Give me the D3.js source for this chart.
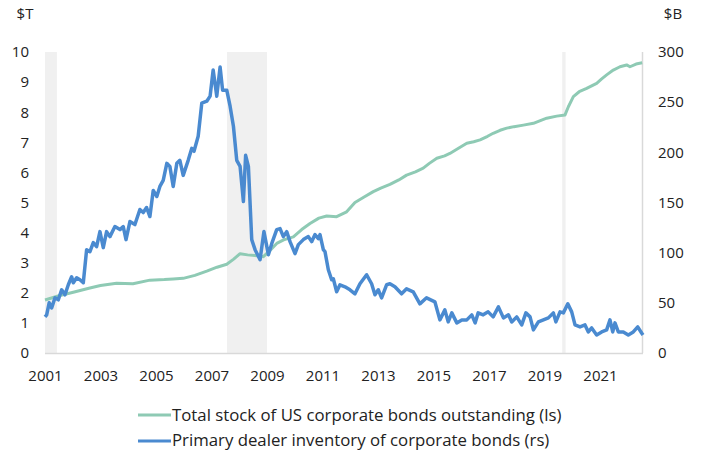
<!DOCTYPE html>
<html>
<head>
<meta charset="utf-8">
<script src="https://cdn.jsdelivr.net/npm/d3@7"></script>
<style>
  html, body { margin: 0; padding: 0; background: #fff; }
  svg text { font-family: "Open Sans", sans-serif; fill: #222; }
</style>
</head>
<body>
<svg id="chart" width="702" height="459"></svg>
<script>
// Time axis is in fractional years; ticks every two years.
const yearTicks = [2001, 2003, 2005, 2007, 2009, 2011, 2013, 2015, 2017, 2019, 2021];
const leftTicks = [0, 1, 2, 3, 4, 5, 6, 7, 8, 9, 10];
const rightTicks = [0, 50, 100, 150, 200, 250, 300];

// Recession periods (shaded bands), as [start, end]
const recessions = [[2001.0, 2001.43], [2007.56, 2009.0], [2019.64, 2019.76]];

// Total stock of US corporate bonds outstanding, $T (left scale)
const stockYears = [
  2001.00, 2001.50, 2002.02, 2002.58, 2003.00, 2003.58, 2004.17, 2004.78, 2005.30, 2005.62,
  2005.98, 2006.40, 2006.83, 2007.20, 2007.55, 2007.80, 2008.03, 2008.30, 2008.57, 2008.87,
  2009.10, 2009.35, 2009.60, 2009.95, 2010.25, 2010.55, 2010.87, 2011.15, 2011.51, 2011.87,
  2012.17, 2012.50, 2012.83, 2013.10, 2013.43, 2013.75, 2014.03, 2014.35, 2014.63, 2014.85,
  2015.12, 2015.40, 2015.59, 2015.90, 2016.20, 2016.45, 2016.68, 2016.95, 2017.15, 2017.40,
  2017.64, 2017.90, 2018.24, 2018.60, 2018.85, 2019.08, 2019.44, 2019.74, 2019.86, 2020.04,
  2020.25, 2020.52, 2020.88, 2021.05, 2021.24, 2021.48, 2021.72, 2021.96, 2022.08, 2022.30,
  2022.52];
const stockValues = [
  1.76, 1.90, 2.02, 2.15, 2.24, 2.32, 2.30, 2.42, 2.44, 2.46,
  2.48, 2.58, 2.72, 2.85, 2.95, 3.12, 3.30, 3.26, 3.24, 3.20,
  3.40, 3.64, 3.76, 3.86, 4.10, 4.30, 4.48, 4.55, 4.53, 4.69,
  5.00, 5.18, 5.36, 5.48, 5.60, 5.75, 5.91, 6.02, 6.14, 6.30,
  6.47, 6.55, 6.63, 6.80, 6.97, 7.02, 7.08, 7.20, 7.30, 7.40,
  7.47, 7.52, 7.57, 7.63, 7.72, 7.80, 7.87, 7.91, 8.18, 8.52,
  8.68, 8.79, 8.96, 9.10, 9.24, 9.40, 9.51, 9.57, 9.51, 9.60,
  9.64];

// Primary dealer inventory of corporate bonds, $B (right scale)
const inventoryYears = [2001.00, 2001.06, 2001.15, 2001.24, 2001.36, 2001.48, 2001.60, 2001.72, 2001.84, 2001.96,
  2002.02, 2002.14, 2002.26, 2002.38, 2002.50, 2002.62, 2002.74, 2002.86, 2002.98, 2003.10,
  2003.22, 2003.34, 2003.52, 2003.70, 2003.82, 2003.92, 2004.06, 2004.24, 2004.42, 2004.54,
  2004.66, 2004.78, 2004.90, 2005.03, 2005.14, 2005.26, 2005.39, 2005.50, 2005.62, 2005.75,
  2005.86, 2005.98, 2006.16, 2006.29, 2006.37, 2006.52, 2006.65, 2006.83, 2006.95, 2007.06,
  2007.19, 2007.31, 2007.40, 2007.55, 2007.67, 2007.79, 2007.91, 2008.03, 2008.15, 2008.23,
  2008.33, 2008.45, 2008.57, 2008.75, 2008.89, 2009.05, 2009.17, 2009.35, 2009.47, 2009.59,
  2009.71, 2009.83, 2010.01, 2010.13, 2010.31, 2010.49, 2010.61, 2010.73, 2010.85, 2010.91,
  2011.03, 2011.09, 2011.21, 2011.33, 2011.39, 2011.51, 2011.63, 2011.81, 2011.99, 2012.17,
  2012.35, 2012.59, 2012.77, 2012.89, 2013.01, 2013.13, 2013.31, 2013.43, 2013.61, 2013.85,
  2014.03, 2014.27, 2014.51, 2014.75, 2015.05, 2015.23, 2015.41, 2015.53, 2015.66, 2015.84,
  2016.02, 2016.20, 2016.38, 2016.50, 2016.61, 2016.79, 2016.97, 2017.15, 2017.34, 2017.52,
  2017.70, 2017.82, 2018.00, 2018.18, 2018.33, 2018.48, 2018.60, 2018.78, 2018.96, 2019.14,
  2019.32, 2019.41, 2019.56, 2019.68, 2019.84, 2019.98, 2020.10, 2020.28, 2020.46, 2020.58,
  2020.70, 2020.88, 2021.06, 2021.24, 2021.36, 2021.46, 2021.54, 2021.66, 2021.84, 2022.02,
  2022.20, 2022.36, 2022.50, 2022.55];
const inventoryValues = [36, 38, 50, 45, 55, 53, 63, 58, 68, 76,
  70, 75, 73, 70, 103, 101, 110, 106, 121, 105,
  121, 116, 126, 123, 126, 113, 131, 128, 143, 140,
  145, 136, 162, 156, 166, 172, 189, 186, 166, 189,
  192, 177, 192, 204, 201, 216, 249, 251, 256, 282,
  256, 285, 262, 262, 246, 226, 192, 186, 151, 197,
  186, 113, 103, 93, 121, 98, 109, 123, 124, 116,
  121, 111, 99, 108, 113, 116, 111, 118, 114, 118,
  103, 101, 83, 73, 74, 61, 68, 66, 63, 59,
  69, 78, 69, 58, 63, 55, 68, 69, 66, 59,
  64, 61, 49, 55, 51, 33, 43, 31, 40, 30,
  33, 33, 38, 30, 40, 38, 41, 36, 46, 35,
  38, 31, 36, 28, 40, 36, 23, 31, 33, 35,
  40, 31, 41, 40, 49, 41, 28, 26, 28, 21,
  25, 18, 21, 23, 33, 21, 30, 21, 21, 18,
  21, 26, 20, 18];

const legendLabels = [
  "Total stock of US corporate bonds outstanding (ls)",
  "Primary dealer inventory of corporate bonds (rs)"
];

const colStock = "#8ecab4";
const colInventory = "#4a8ad0";

const svg = d3.select("#chart");
const margin = { left: 45, right: 59, top: 52, bottom: 106 };
const W = 702, H = 459;

const x = d3.scaleLinear().domain([2001, 2022.55]).range([margin.left, W - margin.right]);
const yL = d3.scaleLinear().domain([0, 10]).range([H - margin.bottom, margin.top]);
const yR = d3.scaleLinear().domain([0, 300]).range([H - margin.bottom, margin.top]);

// Recession shading
svg.append("g").selectAll("rect").data(recessions).join("rect")
  .attr("x", d => x(d[0]))
  .attr("width", d => x(d[1]) - x(d[0]))
  .attr("y", yL(10))
  .attr("height", yL(0) - yL(10))
  .attr("fill", "#f0f0f0");

// Frame lines: bottom and right
svg.append("line")
  .attr("x1", x(2001)).attr("x2", x(2022.55))
  .attr("y1", yL(0) + 0.5).attr("y2", yL(0) + 0.5)
  .attr("stroke", "#d9d9d9").attr("stroke-width", 1.5);
svg.append("line")
  .attr("x1", x(2022.55) - 0.5).attr("x2", x(2022.55) - 0.5)
  .attr("y1", yL(10)).attr("y2", yL(0))
  .attr("stroke", "#d9d9d9").attr("stroke-width", 1.5);

// Axes (labels only; no domain lines or tick marks)
const axL = d3.axisLeft(yL).tickValues(leftTicks).tickSize(0).tickPadding(16).tickFormat(d3.format("d"));
const axR = d3.axisRight(yR).tickValues(rightTicks).tickSize(0).tickPadding(15).tickFormat(d3.format("d"));
const axB = d3.axisBottom(x).tickValues(yearTicks).tickSize(0).tickPadding(17).tickFormat(d3.format("d"));

function styleAxis(g) {
  g.select(".domain").remove();
  g.selectAll("text").attr("font-size", 15).attr("fill", "#222")
    .style("font-family", "'Open Sans', sans-serif");
}
svg.append("g").attr("transform", `translate(${margin.left},0)`).call(axL).call(styleAxis);
svg.append("g").attr("transform", `translate(${W - margin.right},0)`).call(axR).call(styleAxis);
svg.append("g").attr("transform", `translate(0,${H - margin.bottom})`).call(axB).call(styleAxis);

// Unit labels
svg.append("text").attr("x", 25).attr("y", 19).attr("text-anchor", "middle").attr("font-size", 15).text("$T");
svg.append("text").attr("x", 673).attr("y", 19).attr("text-anchor", "middle").attr("font-size", 15).text("$B");

// Series lines
const stockData = stockYears.map((t, i) => ({ t, v: stockValues[i] }));
const invData = inventoryYears.map((t, i) => ({ t, v: inventoryValues[i] }));

svg.append("path").datum(stockData)
  .attr("fill", "none").attr("stroke", colStock).attr("stroke-width", 3)
  .attr("stroke-linejoin", "round")
  .attr("d", d3.line().x(d => x(d.t)).y(d => yL(d.v)));

svg.append("path").datum(invData)
  .attr("fill", "none").attr("stroke", colInventory).attr("stroke-width", 3.5)
  .attr("stroke-linejoin", "round")
  .attr("d", d3.line().x(d => x(d.t)).y(d => yR(d.v)));

// Legend
const legend = svg.append("g");
const legendItems = [
  { label: legendLabels[0], color: colStock, y: 415, base: 421 },
  { label: legendLabels[1], color: colInventory, y: 441, base: 446 }
];
legendItems.forEach(it => {
  legend.append("line").attr("x1", 138).attr("x2", 171).attr("y1", it.y).attr("y2", it.y)
    .attr("stroke", it.color).attr("stroke-width", 3);
  legend.append("text").attr("x", 172).attr("y", it.base)
    .attr("font-size", 16.8).attr("fill", "#333").text(it.label);
});
</script>
</body>
</html>
